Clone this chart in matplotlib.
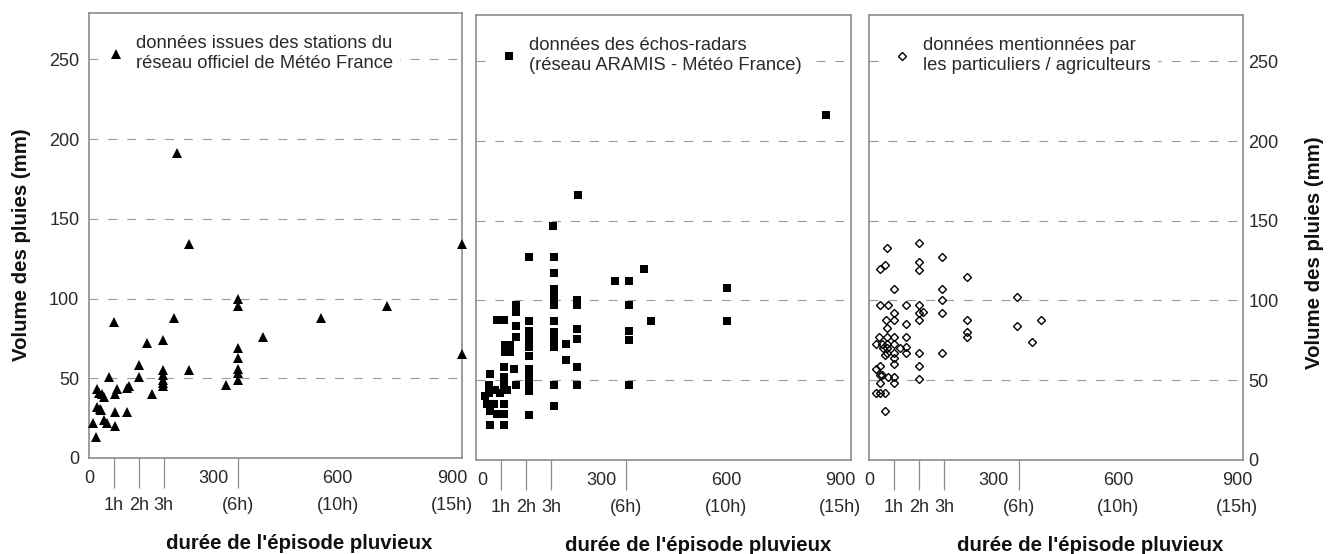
import matplotlib.pyplot as plt
import matplotlib.transforms as mtransforms
import numpy as np

# durée de l'épisode (minutes) et volume des pluies (mm)
duree_stations = [9, 17, 20, 24, 19, 27, 29, 32, 36, 35,
                  43, 47, 61, 63, 67, 63, 63, 91, 91, 97,
                  121, 121, 139, 151, 179, 179, 179, 179, 179, 205,
                  212, 240, 240, 330, 360, 360, 360, 360, 360, 360,
                  360, 419, 559, 718, 900, 900, 179]
pluie_stations = [22, 13, 43, 41, 32, 31, 30, 40, 38, 24,
                  22, 51, 85, 40, 43, 29, 20, 29, 44, 45,
                  58, 51, 72, 40, 74, 55, 52, 49, 45, 88,
                  191, 134, 55, 46, 100, 95, 69, 63, 56, 53,
                  49, 76, 88, 95, 134, 65, 47]

duree_radar = [840, 245, 185, 128, 186, 186, 186, 186, 186, 186, 186, 186, 186, 186, 186,
               402, 334, 366, 366, 366, 366, 366, 421, 602, 602,
               243, 243, 243, 243, 243, 243, 216, 216,
               128, 128, 128, 128, 128, 128, 128, 128, 128, 128,
               96, 96, 96, 96, 96, 90,
               70, 82, 70, 82, 50, 66,
               34, 66, 66, 30, 46, 66, 74, 30, 58, 26, 42, 66, 34, 50, 66, 34, 66, 22]
pluie_radar = [216, 166, 147, 127, 127, 117, 107, 102, 97, 87, 80, 76, 71, 47, 34,
               120, 112, 112, 97, 81, 75, 47, 87, 108, 87,
               100, 97, 82, 76, 58, 47, 73, 63,
               87, 81, 76, 71, 65, 57, 52, 48, 43, 28,
               97, 93, 84, 77, 47, 57,
               72, 72, 68, 68, 88, 88,
               54, 58, 52, 47, 44, 47, 44, 42, 42, 35, 35, 35, 31, 29, 29, 22, 22, 40]

duree_particuliers = [120, 43, 120, 176, 27, 38, 120, 235, 60, 176,
                      176, 27, 46, 88, 120, 120, 130, 176, 60, 41,
                      60, 120, 235, 88, 43, 235, 235, 25, 43, 60,
                      88, 17, 30, 43, 60, 88, 75, 43, 34, 43,
                      60, 38, 88, 120, 176, 60, 60, 17, 27, 120,
                      27, 32, 46, 60, 120, 60, 27, 17, 27, 38,
                      39, 357, 357, 414, 391]
pluie_particuliers = [136, 133, 124, 127, 120, 122, 119, 115, 107, 107,
                      100, 97, 97, 97, 97, 92, 93, 92, 92, 88,
                      88, 88, 88, 85, 83, 80, 77, 77, 77, 77,
                      77, 73, 73, 73, 73, 71, 70, 70, 70, 67,
                      67, 66, 67, 67, 67, 64, 60, 57, 59, 59,
                      53, 53, 52, 52, 51, 48, 48, 42, 42, 42,
                      31, 102, 84, 88, 74]

legendes = ["données issues des stations du\nréseau officiel de Météo France",
            "données des échos-radars\n(réseau ARAMIS - Météo France)",
            "données mentionnées par\nles particuliers / agriculteurs"]

ticks_min = [0, 300, 600, 900]
ticks_heures = [60, 120, 180, 360, 600, 900]
labels_heures = ['1h', '2h', '3h', '(6h)', '(10h)', '(15h)']
traits_heures = [60, 120, 180, 360]
ticks_pluie = [0, 50, 100, 150, 200, 250]

plt.rcParams['font.family'] = ['Liberation Sans', 'DejaVu Sans']

gris = '#8c8c8c'
texte = '#2a2a2a'

fig = plt.figure(figsize=(13.35, 5.54), dpi=100)

positions = [[0.0667, 0.1733, 0.2794, 0.8032],
             [0.3566, 0.1697, 0.2809, 0.8032],
             [0.6510, 0.1697, 0.2801, 0.8032]]
series = [(duree_stations, pluie_stations, dict(marker='^', ms=7.5, color='black', mew=0)),
          (duree_radar, pluie_radar, dict(marker='s', ms=5.8, color='black', mew=0)),
          (duree_particuliers, pluie_particuliers,
           dict(marker='D', ms=3.7, mfc='none', mec='black', mew=1.0))]
legend_x = [0.027, 0.043, 0.045]
xlabel_x = [0.563, 0.592, 0.591]
# décalage horizontal (pixels) des étiquettes 0 et 900
decal_0 = [0, 6, 0]
decal_900 = [-10, -11, -6]


def decale(dx_px):
    return mtransforms.ScaledTranslation(dx_px / 100.0, 0, fig.dpi_scale_trans)


for i in range(3):
    ax = fig.add_axes(positions[i])
    x, y, style = series[i]
    ax.plot(x, y, linestyle='none', label=legendes[i], clip_on=False, zorder=3, **style)

    ax.set_xlim(0, 900)
    ax.set_ylim(0, 279)
    for s in ax.spines.values():
        s.set_color(gris)
        s.set_linewidth(1.2)

    ax.set_yticks(ticks_pluie)
    ax.yaxis.grid(True, linestyle=(0, (8, 9)), color='#9a9a9a', linewidth=0.8)
    ax.tick_params(axis='y', length=0, labelsize=13, labelcolor=texte, pad=7)
    if i == 1:
        ax.tick_params(axis='y', labelleft=False)
    if i == 2:
        ax.yaxis.tick_right()
        ax.tick_params(axis='y', pad=4)
        ax.yaxis.set_label_position('right')

    ax.set_xticks(ticks_min)
    ax.set_xticklabels([str(t) for t in ticks_min])
    ax.tick_params(axis='x', which='major', length=0, labelsize=13, labelcolor=texte, pad=9)
    labs = ax.get_xticklabels()
    labs[0].set_transform(labs[0].get_transform() + decale(decal_0[i]))
    labs[-1].set_transform(labs[-1].get_transform() + decale(decal_900[i]))
    ax.set_xticks(traits_heures, minor=True)
    ax.tick_params(axis='x', which='minor', length=21.5, width=0.9, color=gris, direction='out')
    for t, lab in zip(ticks_heures, labels_heures):
        tr = ax.get_xaxis_transform()
        if t == 900:
            tr = tr + decale(decal_900[i])
        ax.text(t, -0.106, lab, transform=tr, ha='center', va='center',
                fontsize=13, color=texte)

    ax.set_xlabel("durée de l'épisode pluvieux", fontsize=14.7, fontweight='bold', color='#111111',
                  va='center')
    ax.xaxis.set_label_coords(xlabel_x[i], -0.192)

    if i == 0:
        ax.set_ylabel('Volume des pluies (mm)', fontsize=14.7, fontweight='bold', color='#111111',
                      va='center')
        ax.yaxis.set_label_coords(-0.18, 0.48)
    if i == 2:
        ax.set_ylabel('Volume des pluies (mm)', fontsize=14.7, fontweight='bold', color='#111111',
                      rotation=90, va='center')
        ax.yaxis.set_label_coords(1.19, 0.465)

    leg = ax.legend(loc='upper left', bbox_to_anchor=(legend_x[i], 0.966), borderaxespad=0,
                    fontsize=13.2, handlelength=1.0, handletextpad=0.6, borderpad=0.4,
                    frameon=True, fancybox=False, framealpha=1, facecolor='white',
                    edgecolor='none')
    for t in leg.get_texts():
        t.set_color(texte)
        t.set_linespacing(1.2)

fig.savefig('out.png', dpi=100, facecolor='white')
